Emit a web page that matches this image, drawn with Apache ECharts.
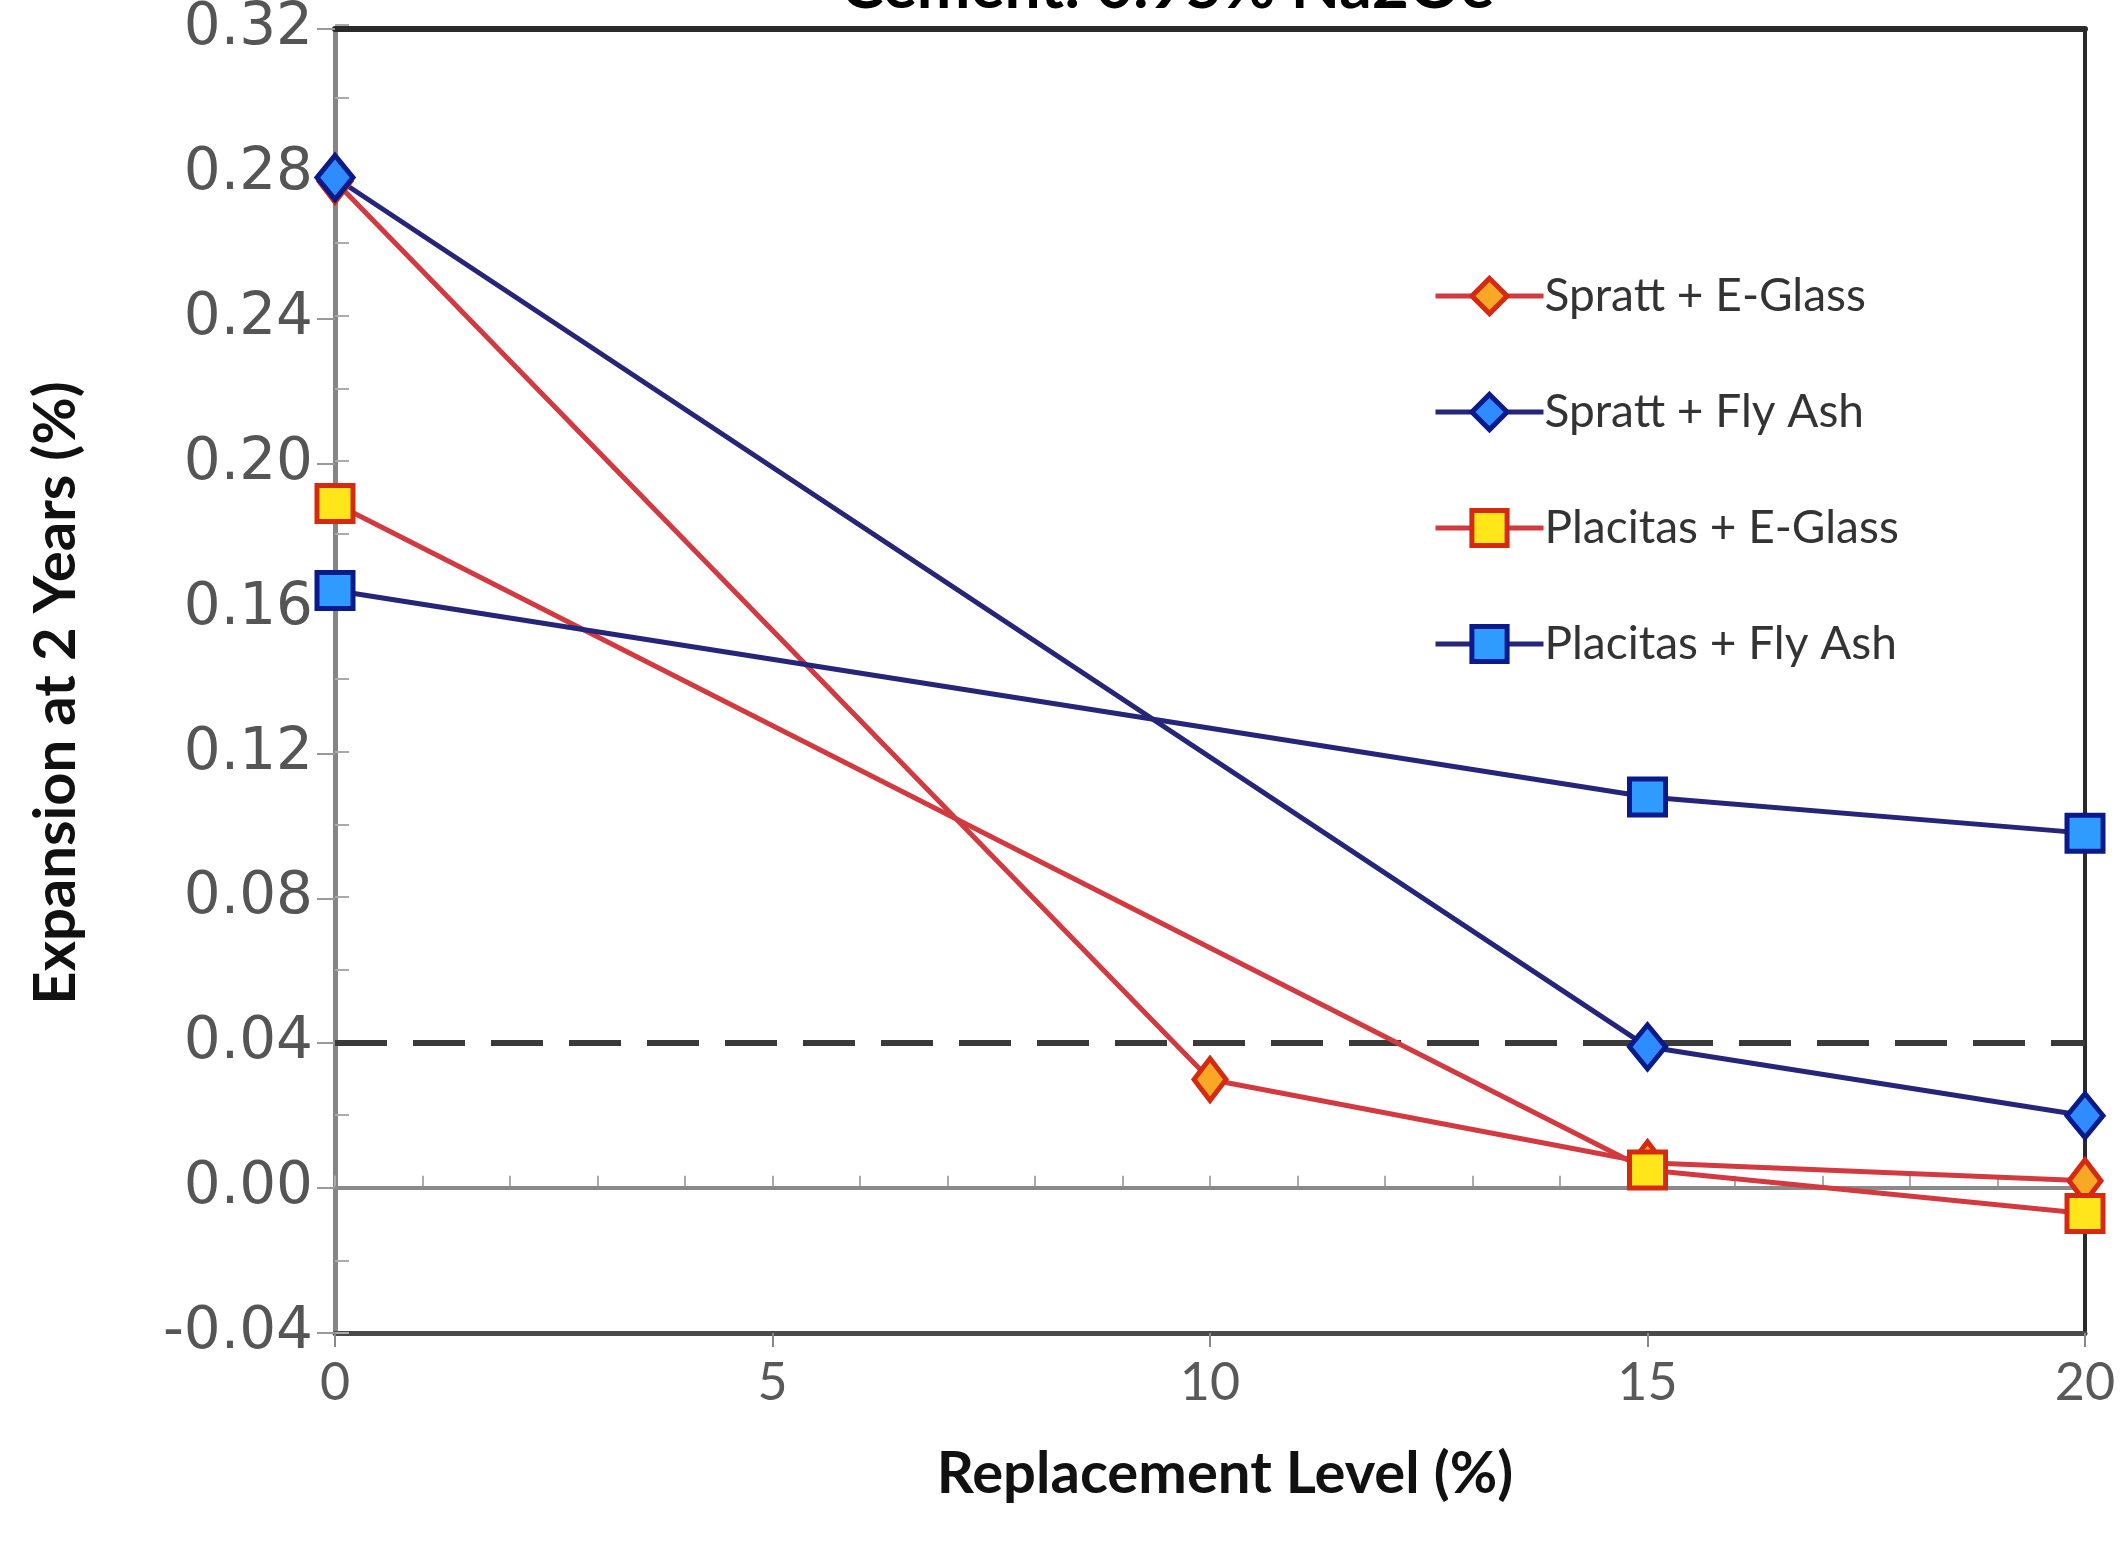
<!DOCTYPE html>
<html>
<head>
<meta charset="utf-8">
<script src="https://cdn.jsdelivr.net/npm/echarts@6/dist/echarts.min.js"></script>
<style>
html,body{margin:0;padding:0;background:#fff;}
#chart{width:2122px;height:1551px;}
</style>
</head>
<body>
<div id="chart"></div>
<script>
// ---- data ----
const titleText = "Cement: 0.95% Na2Oe";
const xTicks = [0, 5, 10, 15, 20];
const yTicks = [-0.04, 0.00, 0.04, 0.08, 0.12, 0.16, 0.20, 0.24, 0.28, 0.32];
const limitValue = 0.04;

const sprattGlassX = [0, 10, 15, 20];
const sprattGlassY = [0.278, 0.030, 0.007, 0.002];

const sprattAshX = [0, 15, 20];
const sprattAshY = [0.279, 0.039, 0.020];

const placitasGlassX = [0, 15, 20];
const placitasGlassY = [0.189, 0.005, -0.007];

const placitasAshX = [0, 15, 20];
const placitasAshY = [0.165, 0.108, 0.098];

const seriesNames = ["Spratt + E-Glass", "Spratt + Fly Ash", "Placitas + E-Glass", "Placitas + Fly Ash"];

function pairs(xs, ys){ return xs.map((x,i)=>[x, ys[i]]); }

const RED = '#d23a40';
const NAVY = '#25257a';
const GRID = {left:335, right:37, top:25, bottom:218};

const chart = echarts.init(document.getElementById('chart'));

function mkSeries(name, data, lineColor, symbol, size, fill, border){
  return {
    name, type:'line', data, xAxisIndex:0, yAxisIndex:0,
    symbol, symbolSize:size, showSymbol:true,
    lineStyle:{color:lineColor, width:5},
    itemStyle:{color:fill, borderColor:border, borderWidth:5},
    emphasis:{disabled:true}, z:5
  };
}

const series = [
  mkSeries(seriesNames[0], pairs(sprattGlassX, sprattGlassY), RED, 'diamond', [32,42], '#f9a825', '#d62a10'),
  mkSeries(seriesNames[1], pairs(sprattAshX, sprattAshY), NAVY, 'diamond', [36,44], '#2f8cff', '#0a1a8a'),
  mkSeries(seriesNames[2], pairs(placitasGlassX, placitasGlassY), RED, 'rect', 36, '#ffe61a', '#d62a10'),
  mkSeries(seriesNames[3], pairs(placitasAshX, placitasAshY), NAVY, 'rect', 36, '#2f9bff', '#0a1a8a'),
  {
    name:'refLines', type:'line', data:[], xAxisIndex:0, yAxisIndex:0, silent:true, z:2,
    markLine:{
      silent:true, symbol:['none','none'], label:{show:false},
      data:[
        {yAxis:0, lineStyle:{color:'#8a8a8a', width:4, type:'solid'}},
        {yAxis:limitValue, lineStyle:{color:'#3a3a3a', width:6, type:[52,26]}}
      ]
    }
  }
];

const option = {
  backgroundColor:'#ffffff',
  animation:false,
  title:{
    text:titleText, left:836, top:-50,
    textStyle:{fontFamily:'Lato', fontWeight:'bold', fontSize:64, color:'#000'}
  },
  legend:{
    data:seriesNames, orient:'vertical', left:1428, top:268,
    itemWidth:108, itemHeight:44, itemGap:70,
    lineStyle:{width:5},
    itemStyle:{borderWidth:5},
    textStyle:{fontFamily:'Lato', fontSize:46, color:'#333', lineHeight:46, padding:[0,0,0,-4]}
  },
  grid:[
    Object.assign({show:false}, GRID),
    Object.assign({show:false}, GRID)
  ],
  xAxis:[
    {
      type:'value', gridIndex:0, position:'bottom', min:xTicks[0], max:xTicks[xTicks.length-1], interval:5,
      axisLine:{show:true, onZero:false, lineStyle:{color:'#4a4a4a', width:5}},
      axisTick:{show:true, inside:false, length:14, lineStyle:{color:'#888', width:2}},
      minorTick:{show:false},
      splitLine:{show:false},
      axisLabel:{show:true, margin:24, fontFamily:'Lato', fontSize:52, color:'#595959',
        formatter:v=>String(v)},
      name:'Replacement Level (%)', nameLocation:'middle', nameGap:112,
      nameTextStyle:{fontFamily:'Lato', fontWeight:'bold', fontSize:58, color:'#111', padding:[0,0,0,30]}
    },
    {
      type:'value', gridIndex:0, position:'top', min:0, max:20,
      axisLine:{show:true, onZero:false, lineStyle:{color:'#2a2a2a', width:6}},
      axisTick:{show:false}, axisLabel:{show:false}, splitLine:{show:false}
    },
    {
      type:'value', gridIndex:1, position:'bottom', min:0, max:20, interval:1,
      axisLine:{show:false}, axisLabel:{show:false}, splitLine:{show:false},
      axisTick:{show:true, inside:true, length:12, lineStyle:{color:'#aaa', width:2}}
    }
  ],
  yAxis:[
    {
      type:'value', gridIndex:0, position:'left', min:yTicks[0], max:yTicks[yTicks.length-1], interval:0.04,
      axisLine:{show:true, onZero:false, lineStyle:{color:'#858585', width:5}},
      axisTick:{show:true, inside:false, length:18, lineStyle:{color:'#999', width:2}},
      splitLine:{show:false},
      axisLabel:{show:true, margin:22, fontFamily:'DejaVu Sans', fontSize:58, color:'#555',
        formatter:v=>v.toFixed(2)},
      name:'Expansion at 2 Years (%)', nameLocation:'middle', nameGap:250, nameRotate:90,
      nameTextStyle:{fontFamily:'Lato', fontWeight:'bold', fontSize:58, color:'#111', padding:[0,24,0,0]}
    },
    {
      type:'value', gridIndex:0, position:'right', min:-0.04, max:0.32,
      axisLine:{show:true, onZero:false, lineStyle:{color:'#2a2a2a', width:4}},
      axisTick:{show:false}, axisLabel:{show:false}, splitLine:{show:false}
    },
    {
      type:'value', gridIndex:1, position:'left', min:-0.04, max:0.32, interval:0.02,
      axisLine:{show:false}, axisLabel:{show:false}, splitLine:{show:false},
      axisTick:{show:true, inside:true, length:14, lineStyle:{color:'#aaa', width:2}}
    }
  ],
  series
};
chart.setOption(option);
</script>
</body>
</html>
